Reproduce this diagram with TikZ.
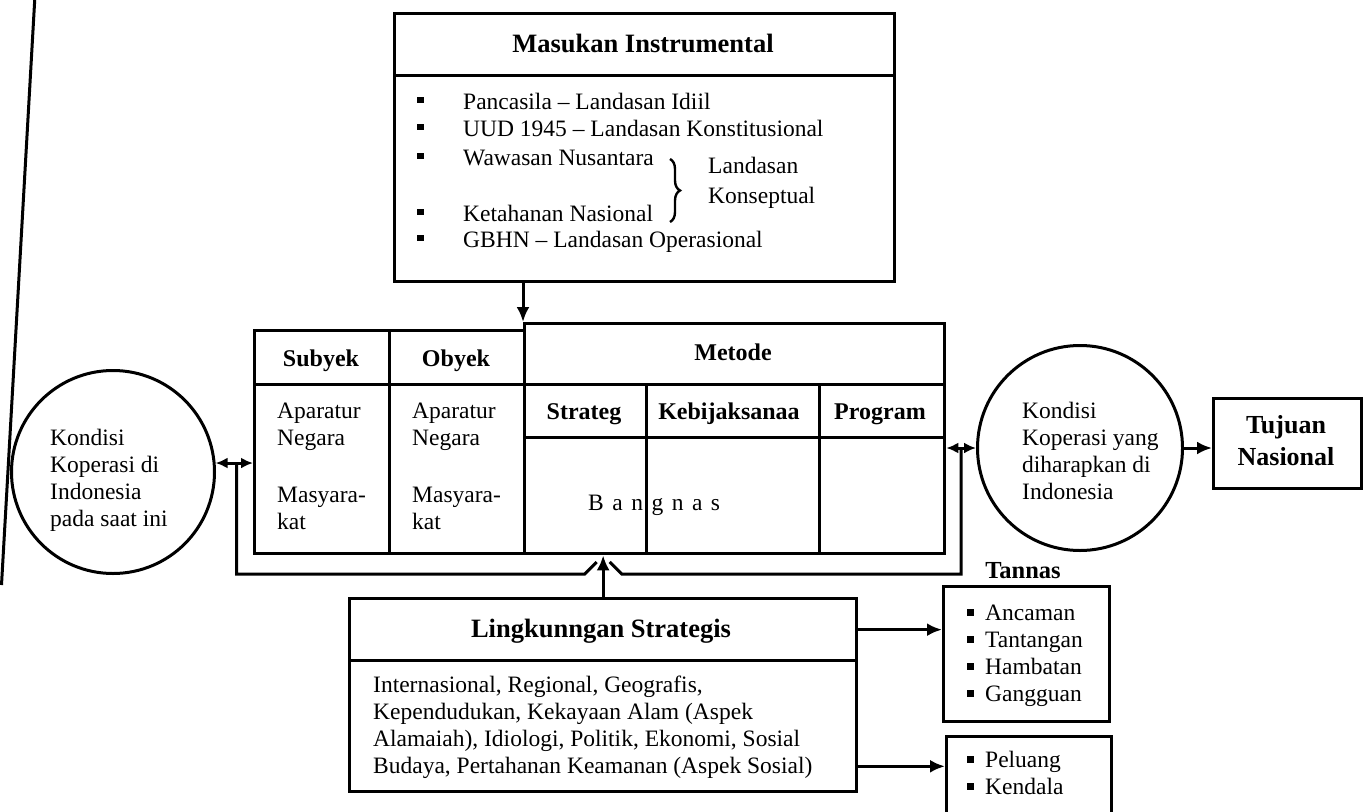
\documentclass[tikz,border=0pt]{standalone}
\usepackage{fontspec}
\setmainfont{Liberation Serif}
\usetikzlibrary{arrows.meta,calc,decorations.pathreplacing}

% bullet marks
\newcommand\mbul{\rule[6pt]{6.5pt}{6.5pt}}
\newcommand\sbul{\rule[4.5pt]{6.5pt}{6.5pt}\hspace{11.5pt}}
\newcommand\stack[1]{\begin{tabular}[t]{@{}l@{}}#1\end{tabular}}

\begin{document}
\begin{tikzpicture}[
  x=1pt, y=-1pt,
  box/.style={draw, line width=3.3pt, rectangle, inner sep=0pt, anchor=north west},
  ring/.style={draw, line width=3pt, circle, inner sep=0pt},
  link/.style={line width=3pt},
  arr/.style={link, -{Latex[length=15pt,width=13pt]}},
  darr/.style={link, {Latex[length=12pt,width=11pt]}-{Latex[length=12pt,width=11pt]}},
  txt/.style={inner sep=0pt, anchor=base west, font=\fontsize{23.5}{27}\selectfont},
  head/.style={inner sep=0pt, anchor=base, font=\bfseries\fontsize{24}{28}\selectfont},
  bighead/.style={inner sep=0pt, anchor=base, font=\bfseries\fontsize{26.5}{32}\selectfont},
]
\useasboundingbox (0,0) rectangle (1370,811);
\clip (0,0) rectangle (1370,811);
\fill[white] (0,0) rectangle (1370,811);

% margin rule on the left
\draw[line width=3pt] (35,-5) -- (1.5,585);

% ---- Masukan Instrumental ----
\node[box, minimum width=500pt, minimum height=62pt] (mH) at (393,12) {};
\node[box, minimum width=500pt, minimum height=206pt] (mB) at (393,74) {};
\node[bighead] (mHt) at (643,52) {Masukan Instrumental};
\node[txt] (m1) at (417,109) {\mbul\hspace{39.5pt}Pancasila – Landasan Idiil};
\node[txt] (m2) at (417,136) {\mbul\hspace{39.5pt}UUD 1945 – Landasan Konstitusional};
\node[txt] (m3) at (417,165) {\mbul\hspace{39.5pt}Wawasan Nusantara};
\node[txt] (m4) at (417,221) {\mbul\hspace{39.5pt}Ketahanan Nasional};
\node[txt] (m5) at (417,247) {\mbul\hspace{39.5pt}GBHN – Landasan Operasional};
\draw[decorate, decoration={brace, amplitude=10pt}, line width=2.4pt] (670,159) -- (670,222);
\node[txt] (lk1) at (708,173) {Landasan};
\node[txt] (lk2) at (708,203) {Konseptual};

% ---- main table ----
\node[box, minimum width=135pt, minimum height=54pt] (subH) at (253,329) {};
\node[box, minimum width=135pt, minimum height=169pt] (subB) at (253,383) {};
\node[box, minimum width=135pt, minimum height=54pt] (obH) at (388,329) {};
\node[box, minimum width=135pt, minimum height=169pt] (obB) at (388,383) {};
\node[box, minimum width=420pt, minimum height=61pt] (metH) at (523,322) {};
\node[box, minimum width=122pt, minimum height=53pt] (strH) at (523,383) {};
\node[box, minimum width=173pt, minimum height=53pt] (kebH) at (645,383) {};
\node[box, minimum width=125pt, minimum height=53pt] (proH) at (818,383) {};
\node[box, minimum width=122pt, minimum height=116pt] (strB) at (523,436) {};
\node[box, minimum width=173pt, minimum height=116pt] (kebB) at (645,436) {};
\node[box, minimum width=125pt, minimum height=116pt] (proB) at (818,436) {};

\node[head] (tSub) at (321,366) {Subyek};
\node[head] (tOb) at (456,366) {Obyek};
\node[head] (tMet) at (733,360) {Metode};
\node[head] (tStr) at (584,419) {Strateg};
\node[head] (tKeb) at (729,419) {Kebijaksanaa};
\node[head] (tPro) at (880,419) {Program};

\node[txt] (sb1) at (277,418) {\stack{Aparatur\\Negara}};
\node[txt] (sb2) at (277,502) {\stack{Masyara-\\kat}};
\node[txt] (ob1) at (412,418) {\stack{Aparatur\\Negara}};
\node[txt] (ob2) at (412,502) {\stack{Masyara-\\kat}};
\node[txt] (bg) at (588,510) {\spaceskip=8.5pt\relax B a n g n a s};

% ---- conditions ----
\node[ring, minimum size=203pt] (lc) at (113,472) {};
\node[txt] (lct) at (50,445) {\stack{Kondisi\\Koperasi di\\Indonesia\\pada saat ini}};
\node[ring, minimum size=205pt] (rc) at (1080,448) {};
\node[txt] (rct) at (1022,418) {\stack{Kondisi\\Koperasi yang\\diharapkan di\\Indonesia}};

% ---- goal ----
\node[box, minimum width=148pt, minimum height=90pt] (tuj) at (1212,397) {};
\node[bighead, font=\bfseries\fontsize{26}{32}\selectfont] (tj1) at (1286,433) {Tujuan};
\node[bighead, font=\bfseries\fontsize{26}{32}\selectfont] (tj2) at (1286,465) {Nasional};

% ---- Lingkungan Strategis ----
\node[box, minimum width=507pt, minimum height=62pt] (lH) at (348,597) {};
\node[box, minimum width=507pt, minimum height=131pt] (lB) at (348,659) {};
\node[bighead] (lHt) at (601,637) {Lingkunngan Strategis};
\node[txt] (lBt) at (373,692) {\stack{Internasional, Regional, Geografis,\\
  Kependudukan, Kekayaan Alam (Aspek\\
  Alamaiah), Idiologi, Politik, Ekonomi, Sosial\\
  Budaya, Pertahanan Keamanan (Aspek Sosial)}};

% ---- Tannas ----
\node[bighead, font=\bfseries\fontsize{24.5}{30}\selectfont] (tnl) at (1023,578) {Tannas};
\node[box, minimum width=166pt, minimum height=135pt] (tan) at (942,585) {};
\node[txt] (tant) at (967,620) {\stack{\sbul Ancaman\\\sbul Tantangan\\\sbul Hambatan\\\sbul Gangguan}};
\node[box, minimum width=165pt, minimum height=100pt] (pel) at (945,735) {};
\node[txt] (pelt) at (967,767) {\stack{\sbul Peluang\\\sbul Kendala}};

% ---- connectors ----
\draw[arr] (mB.south -| metH.north west) -- (metH.north west);
\draw[darr] (lc.5) -- (lc.5 -| subB.west);
\draw[darr] (rc.west -| proB.east) -- (rc.west);
\draw[arr] (rc.east) -- (rc.east -| tuj.west);
\draw[arr] (lH.north) -- (lH.north |- strB.south);
\draw[arr] (lH.east) -- (lH.east -| tan.west);
\coordinate (lo) at ($(lB.south east)+(0,-27)$);
\draw[arr] (lo) -- (lo -| pel.west);

% feedback loop joining the upward arrow
\path (lc.5) ++(21,0) coordinate (fbL);
\path (rc.west) ++(-15,0) coordinate (fbR);
\coordinate (aL) at ($(lH.north)+(-6.5,-35)$);
\coordinate (aR) at ($(lH.north)+(6.5,-35)$);
\draw[link] (fbL) |- ($(aL)+(-12,12)$) -- (aL);
\draw[link] (fbR) |- ($(aR)+(12,12)$) -- (aR);
\end{tikzpicture}
\end{document}
